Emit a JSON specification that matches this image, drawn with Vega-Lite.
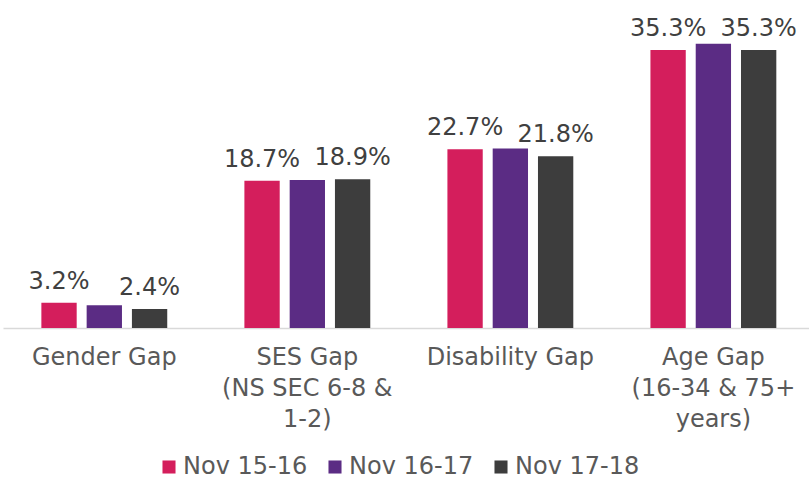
{
  "$schema": "https://vega.github.io/schema/vega-lite/v6.json",
  "autosize": "none",
  "width": 806,
  "height": 328,
  "padding": {"left": 3, "top": 0, "right": 0, "bottom": 151},
  "background": "white",
  "config": {"view": {"stroke": null}, "font": "DejaVu Sans"},
  "data": {
    "values": [
      {"gap": "Gender Gap", "series": "Nov 15-16", "v": 3.2},
      {"gap": "Gender Gap", "series": "Nov 16-17", "v": 2.9},
      {"gap": "Gender Gap", "series": "Nov 17-18", "v": 2.4},
      {"gap": "SES Gap|(NS SEC 6-8 &|1-2)", "series": "Nov 15-16", "v": 18.7},
      {"gap": "SES Gap|(NS SEC 6-8 &|1-2)", "series": "Nov 16-17", "v": 18.8},
      {"gap": "SES Gap|(NS SEC 6-8 &|1-2)", "series": "Nov 17-18", "v": 18.9},
      {"gap": "Disability Gap", "series": "Nov 15-16", "v": 22.7},
      {"gap": "Disability Gap", "series": "Nov 16-17", "v": 22.8},
      {"gap": "Disability Gap", "series": "Nov 17-18", "v": 21.8},
      {"gap": "Age Gap|(16-34 & 75+|years)", "series": "Nov 15-16", "v": 35.3},
      {"gap": "Age Gap|(16-34 & 75+|years)", "series": "Nov 16-17", "v": 36.1},
      {"gap": "Age Gap|(16-34 & 75+|years)", "series": "Nov 17-18", "v": 35.3}
    ]
  },
  "encoding": {
    "x": {
      "field": "gap", "type": "nominal", "sort": null,
      "scale": {"paddingInner": 0.38, "paddingOuter": 0.175, "align": 0.54},
      "axis": {
        "title": null, "labelAngle": 0, "ticks": false, "domainColor": "#D9D9D9", "domainWidth": 1.5,
        "labelFontSize": 24, "labelColor": "#595959", "labelPadding": 17,
        "labelLineHeight": 31, "labelBaseline": "top",
        "labelExpr": "split(datum.label, '|')"
      }
    },
    "xOffset": {"field": "series", "type": "nominal", "scale": {"paddingInner": 0.22}},
    "y": {"field": "v", "type": "quantitative", "scale": {"domain": [0, 41.65], "nice": false}, "axis": null}
  },
  "layer": [
    {
      "mark": {"type": "bar"},
      "encoding": {
        "color": {
          "field": "series", "type": "nominal",
          "scale": {"domain": ["Nov 15-16", "Nov 16-17", "Nov 17-18"], "range": ["#D41E5C", "#5B2C84", "#3D3D3D"]},
          "legend": {
            "title": null, "orient": "none", "direction": "horizontal",
            "legendX": 154, "legendY": 455,
            "symbolType": "square", "symbolSize": 170, "symbolStrokeWidth": 0,
            "labelFontSize": 24, "labelColor": "#595959", "labelOffset": 2,
            "columnPadding": 15
          }
        }
      }
    },
    {
      "transform": [
        {"filter": "datum.series != 'Nov 16-17'"},
        {"calculate": "format(datum.v, '.1f') + '%'", "as": "lbl"}
      ],
      "mark": {"type": "text", "baseline": "alphabetic", "dy": -14, "fontSize": 24, "color": "#404040"},
      "encoding": {"text": {"field": "lbl"}}
    }
  ]
}
